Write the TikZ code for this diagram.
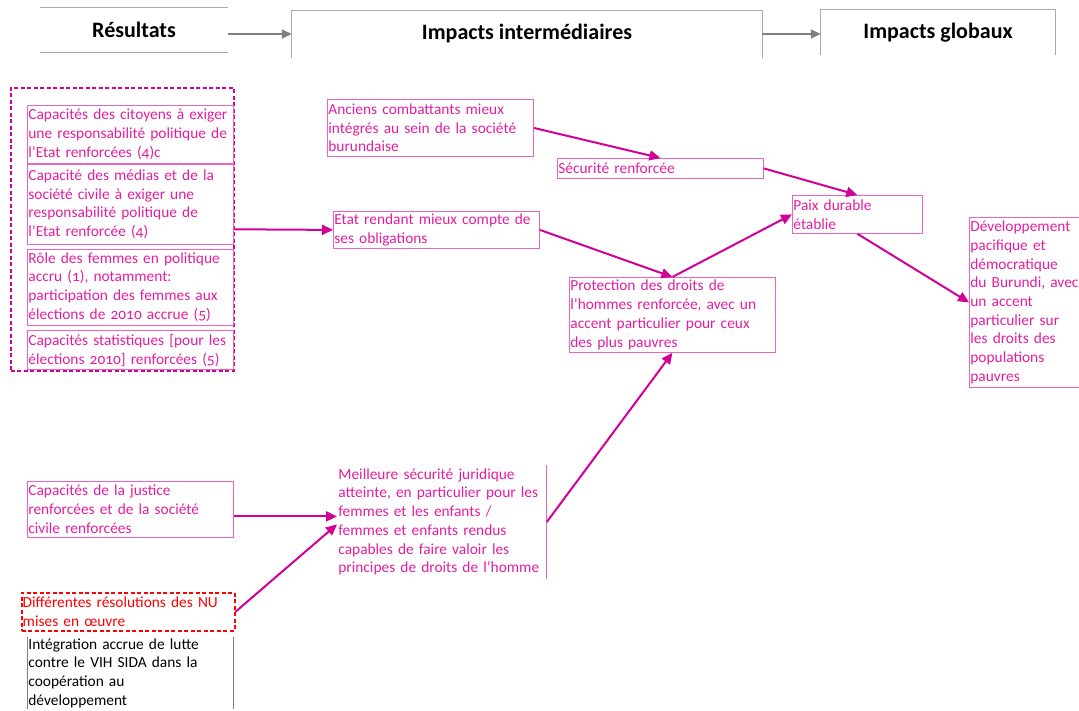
\documentclass[tikz,border=0pt]{standalone}
\usepackage{fontspec}
\setmainfont{Carlito}[Numbers=OldStyle]
\usepackage{xcolor}
\usepackage{tikz}
\usetikzlibrary{arrows.meta,positioning,calc}
\definecolor{mgtext}{RGB}{226,30,160}
\definecolor{mgline}{RGB}{236,100,195}
\definecolor{mgarrow}{RGB}{210,0,150}
\definecolor{hdrgray}{RGB}{170,170,170}
\definecolor{arrgray}{RGB}{128,128,128}

\begin{document}
\begin{tikzpicture}[x=1pt,y=-1pt,
  box/.style={draw=mgline,line width=0.8pt,text=mgtext,align=left,anchor=north west,
              inner xsep=1pt,inner ysep=1pt,font=\fontsize{15.4}{18.7}\selectfont},
  txt/.style={box,draw=none},
  groupbox/.style={draw,color=mgarrow,line width=1.6pt,dash pattern=on 4pt off 2.5pt,anchor=north west},
  hdr/.style={inner sep=0pt,font=\fontsize{22}{26}\selectfont\bfseries},
  hdrline/.style={draw=hdrgray,line width=1pt},
  arr/.style={-{Triangle[length=11pt,width=10pt]},draw=mgarrow,line width=2pt},
  garr/.style={-{Triangle[length=10pt,width=9pt]},draw=arrgray,line width=1.5pt}]
\useasboundingbox (0,0) rectangle (1079,710);
\node[hdr,minimum width=188pt,minimum height=45pt] (res) at (134,30) {Résultats};
\node[hdr,minimum width=470pt,minimum height=47pt] (inter) at (527,34) {Impacts intermédiaires};
\node[hdr,minimum width=234pt,minimum height=45pt] (glob) at (938,32.5) {Impacts globaux};
\draw[hdrline] (res.north west) -- (res.north east) (res.south west) -- (res.south east);
\draw[hdrline] (inter.south west) -- (inter.north west) -- (inter.north east) -- (inter.south east);
\draw[hdrline] (glob.south west) -- (glob.north west) -- (glob.north east) -- (glob.south east);
\draw[garr] (res.east |- inter.west) -- (inter.west);
\draw[garr] (inter.east) -- (inter.east -| glob.west);

\node[groupbox,minimum width=223pt,minimum height=283pt] (outcomes) at (10,87) {};
\node[box,text width=204pt,minimum height=58pt] (citoyens) at (27,105)
  {Capacités des citoyens à exiger\\une responsabilité politique de\\l’Etat renforcées (4)c};
\node[box,text width=204pt,minimum height=80pt,below=0pt of citoyens.south west,anchor=north west] (medias)
  {Capacité des médias et de la\\société civile à exiger une\\responsabilité politique de\\l’Etat renforcée (4)};
\node[box,text width=204pt,minimum height=76pt,below=4pt of medias.south west,anchor=north west] (femmes)
  {Rôle des femmes en politique\\accru (1), notamment:\\participation des femmes aux\\élections de 2010 accrue (5)};
\node[box,text width=204pt,minimum height=39pt,below=5pt of femmes.south west,anchor=north west] (stats)
  {Capacités statistiques [pour les\\élections 2010] renforcées (5)};

\node[box,text width=204pt,minimum height=57pt] (anciens) at (327,99)
  {Anciens combattants mieux\\intégrés au sein de la société\\burundaise};
\node[box,text width=204pt,minimum height=20pt] (securite) at (557,158) {Sécurité renforcée};
\node[box,text width=204pt,minimum height=37pt] (etat) at (333,211)
  {Etat rendant mieux compte de\\ses obligations};
\node[box,text width=204pt,minimum height=75pt] (prot) at (569,277)
  {Protection des droits de\\l’hommes renforcée, avec un\\accent particulier pour ceux\\des plus pauvres};
\node[box,text width=128pt,minimum height=38pt] (paix) at (792,195) {Paix durable\\établie};
\node[box,text width=130pt,minimum height=170pt] (dev) at (969,217)
  {Développement\\pacifique et\\démocratique\\du Burundi, avec\\un accent\\particulier sur\\les droits des\\populations\\pauvres};

\node[box,text width=204pt,minimum height=56pt] (justice) at (27,481)
  {Capacités de la justice\\renforcées et de la société\\civile renforcées};
\node[txt,text width=207pt,minimum height=113pt] (meil) at (337,465)
  {Meilleure sécurité juridique\\atteinte, en particulier pour les\\femmes et les enfants /\\femmes et enfants rendus\\capables de faire valoir les\\principes de droits de l’homme};
\draw[draw=mgline,line width=0.8pt] (meil.north east) -- (meil.south east);
\node[box,draw=red,text=red,line width=1.5pt,dash pattern=on 4pt off 2.5pt,text width=211pt,minimum height=38pt] (resnu) at (21,592)
  {Différentes résolutions des NU\\mises en œuvre};
\node[txt,text=black,text width=204pt] (vih) at (27,637)
  {Intégration accrue de lutte\\contre le VIH SIDA dans la\\coopération au\\développement};
\draw[draw=arrgray,line width=0.8pt] (vih.north west) -- (vih.south west) (vih.north east) -- (vih.south east);

\draw[arr] (outcomes.east) -- (etat.west);
\draw[arr] (anciens.east) -- (securite.north);
\draw[arr] (etat.east) -- (prot.north);
\draw[arr] (securite.east) -- (paix.north);
\draw[arr] (prot.north) -- (paix.west);
\draw[arr] (paix.south) -- (dev.west);
\draw[arr] ($(justice.east)+(0,7)$) -- ($(justice.east -| meil.west)+(0,7)$);
\draw[arr] (resnu.east) -- ($(justice.east -| meil.west)+(0,15)$);
\draw[arr] ($(meil.north east)+(0,57)$) -- (prot.south);
\end{tikzpicture}
\end{document}
